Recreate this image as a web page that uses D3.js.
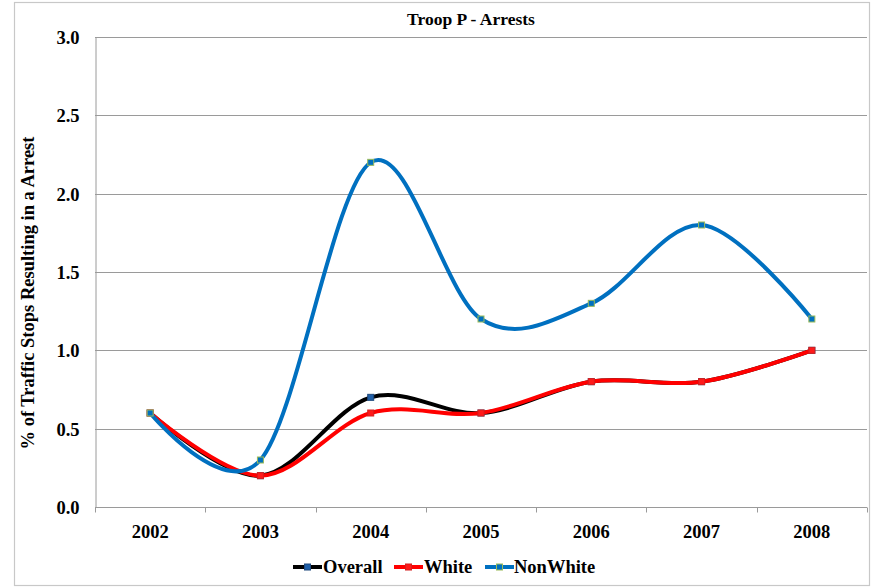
<!DOCTYPE html>
<html>
<head>
<meta charset="utf-8">
<script src="https://cdn.jsdelivr.net/npm/d3@7"></script>
<style>
  html, body { margin: 0; padding: 0; background: #fff; }
  svg { display: block; }
  text { font-family: "Liberation Serif", "Times New Roman", serif; font-weight: bold; fill: #000; }
</style>
</head>
<body>
<svg id="chart" width="876" height="587"></svg>
<script>
// Troop P arrest rates by year
const years = ["2002", "2003", "2004", "2005", "2006", "2007", "2008"];
const overall = [0.6, 0.2, 0.7, 0.6, 0.8, 0.8, 1.0];
const white = [0.6, 0.2, 0.6, 0.6, 0.8, 0.8, 1.0];
const nonWhite = [0.6, 0.3, 2.2, 1.2, 1.3, 1.8, 1.2];
const yTicks = [0, 0.5, 1.0, 1.5, 2.0, 2.5, 3.0];

const seriesList = [
  { name: "Overall", values: overall, line: "#000000", markerFill: "#1f5fa8", markerStroke: "#1f497d" },
  { name: "White", values: white, line: "#ff0000", markerFill: "#ff1a1a", markerStroke: "#d42020" },
  { name: "NonWhite", values: nonWhite, line: "#0070c0", markerFill: "#0070c0", markerStroke: "#9bbb59" }
];

const svg = d3.select("#chart");
const plot = { left: 95, top: 37, right: 867, bottom: 507 };

// outer chart frame
svg.append("rect")
  .attr("x", 14.5).attr("y", 2.5)
  .attr("width", 869 - 14).attr("height", 585 - 2)
  .attr("fill", "#fff").attr("stroke", "#c8c8c8").attr("stroke-width", 1.2);

const x = d3.scaleBand().domain(years).range([plot.left, plot.right]).paddingInner(0).paddingOuter(0);
const y = d3.scaleLinear().domain([0, 3]).range([plot.bottom, plot.top]);

// horizontal gridlines
svg.append("g")
  .selectAll("line")
  .data(yTicks.filter(d => d > 0))
  .join("line")
  .attr("x1", plot.left).attr("x2", plot.right)
  .attr("y1", d => Math.round(y(d)) + 0.5).attr("y2", d => Math.round(y(d)) + 0.5)
  .attr("stroke", "#9a9a9a").attr("stroke-width", 1);

// y axis
const yAxis = svg.append("g")
  .attr("transform", `translate(${plot.left + 0.5},0)`)
  .call(d3.axisLeft(y).tickValues(yTicks).tickFormat(d3.format(".1f")).tickSize(0).tickPadding(16));
yAxis.select(".domain").attr("stroke", "#9a9a9a");
yAxis.selectAll("text").style("font-size", "18.5px").attr("dy", "0.35em");

// x axis with boundary ticks between categories
const xAxisG = svg.append("g").attr("transform", `translate(0,${Math.round(plot.bottom) + 0.5})`);
xAxisG.append("line")
  .attr("x1", plot.left).attr("x2", plot.right)
  .attr("stroke", "#9a9a9a");
const boundaries = years.map(d => x(d)).concat([plot.right]);
xAxisG.selectAll("line.tk")
  .data(boundaries)
  .join("line")
  .attr("class", "tk")
  .attr("x1", d => Math.round(d) + 0.5).attr("x2", d => Math.round(d) + 0.5)
  .attr("y1", 0).attr("y2", 5)
  .attr("stroke", "#9a9a9a");
xAxisG.selectAll("text")
  .data(years)
  .join("text")
  .attr("x", d => x(d) + x.bandwidth() / 2)
  .attr("y", 30)
  .attr("text-anchor", "middle")
  .style("font-size", "18.5px")
  .text(d => d);

// title
svg.append("text")
  .attr("x", 471).attr("y", 25)
  .attr("text-anchor", "middle")
  .style("font-size", "17.5px")
  .text("Troop P - Arrests");

// y axis title
svg.append("text")
  .attr("transform", "translate(34,293) rotate(-90)")
  .attr("text-anchor", "middle")
  .style("font-size", "18.5px")
  .text("% of Traffic Stops Resulting in a Arrest");

// smoothed series lines
const line = d3.line()
  .x((d, i) => x(years[i]) + x.bandwidth() / 2)
  .y(d => y(d))
  .curve(d3.curveCardinal.tension(0));

const ms = 6;
seriesList.forEach(s => {
  svg.append("path")
    .datum(s.values)
    .attr("d", line)
    .attr("fill", "none")
    .attr("stroke", s.line)
    .attr("stroke-width", 4)
    .attr("stroke-linejoin", "round");
  svg.append("g")
    .selectAll("rect")
    .data(s.values)
    .join("rect")
    .attr("x", (d, i) => x(years[i]) + x.bandwidth() / 2 - ms / 2)
    .attr("y", d => y(d) - ms / 2)
    .attr("width", ms).attr("height", ms)
    .attr("fill", s.markerFill)
    .attr("stroke", s.markerStroke)
    .attr("stroke-width", 1);
});

// legend
const legendItems = [
  { s: seriesList[0], lx: 293, tx: 323 },
  { s: seriesList[1], lx: 394, tx: 424 },
  { s: seriesList[2], lx: 485, tx: 514 }
];
const lg = svg.append("g");
legendItems.forEach(it => {
  const ly = 567;
  lg.append("line")
    .attr("x1", it.lx).attr("x2", it.lx + 29)
    .attr("y1", ly).attr("y2", ly)
    .attr("stroke", it.s.line).attr("stroke-width", 4);
  lg.append("rect")
    .attr("x", it.lx + 14.5 - ms / 2).attr("y", ly - ms / 2)
    .attr("width", ms).attr("height", ms)
    .attr("fill", it.s.markerFill).attr("stroke", it.s.markerStroke).attr("stroke-width", 1);
  lg.append("text")
    .attr("x", it.tx).attr("y", ly)
    .attr("dy", "0.35em")
    .style("font-size", "18.5px")
    .text(it.s.name);
});
</script>
</body>
</html>
